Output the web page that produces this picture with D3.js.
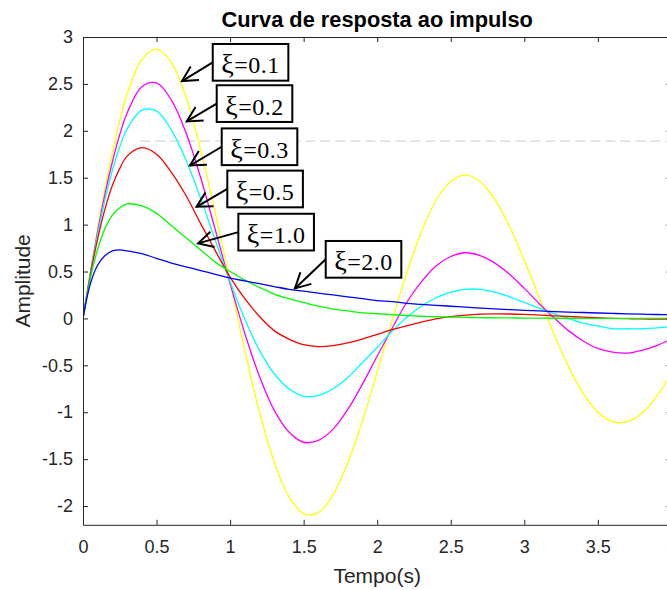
<!DOCTYPE html>
<html>
<head>
<meta charset="utf-8">
<script src="https://cdn.jsdelivr.net/npm/d3@7"></script>
<style>
  body { margin: 0; background: #fff; }
  svg { display: block; }
</style>
</head>
<body>
<div id="chart"></div>
<script>
// ---- dados ----
const time = [0, 0.05, 0.1, 0.15, 0.2, 0.25, 0.3, 0.4, 0.5, 0.6, 0.7, 0.8, 0.9, 1.0,
  1.1, 1.2, 1.3, 1.4, 1.5, 1.6, 1.7, 1.8, 1.9, 2.0, 2.1, 2.2, 2.3, 2.4, 2.5, 2.6,
  2.7, 2.8, 2.9, 3.0, 3.1, 3.2, 3.3, 3.4, 3.5, 3.6, 3.7, 3.8, 3.9, 4.0];

const xi01 = [0, 0.49, 0.96, 1.39, 1.77, 2.11, 2.39, 2.76, 2.87, 2.73, 2.36, 1.80, 1.12, 0.39,
  -0.34, -1.00, -1.53, -1.90, -2.08, -2.07, -1.88, -1.54, -1.09, -0.57, -0.03, 0.48, 0.92, 1.26,
  1.46, 1.53, 1.46, 1.27, 0.98, 0.62, 0.23, -0.16, -0.51, -0.80, -1.00, -1.10, -1.10, -1.01,
  -0.83, -0.59];
const xi02 = [0, 0.48, 0.93, 1.33, 1.67, 1.96, 2.19, 2.47, 2.51, 2.33, 1.98, 1.50, 0.94, 0.37,
  -0.16, -0.62, -0.98, -1.21, -1.32, -1.30, -1.18, -0.97, -0.70, -0.40, -0.11, 0.17, 0.39, 0.56,
  0.66, 0.70, 0.67, 0.59, 0.47, 0.32, 0.16, 0.01, -0.13, -0.24, -0.32, -0.36, -0.37, -0.34,
  -0.29, -0.22];
const xi03 = [0, 0.48, 0.90, 1.27, 1.58, 1.83, 2.02, 2.22, 2.21, 2.01, 1.69, 1.28, 0.83, 0.39,
  -0.01, -0.34, -0.59, -0.75, -0.83, -0.82, -0.75, -0.63, -0.47, -0.31, -0.14, 0.01, 0.13, 0.22,
  0.28, 0.31, 0.31, 0.28, 0.23, 0.17, 0.11, 0.05, 0.00, -0.05, -0.08, -0.11, -0.11, -0.11,
  -0.10, -0.09];
const xi05 = [0, 0.46, 0.85, 1.17, 1.42, 1.60, 1.73, 1.82, 1.75, 1.56, 1.31, 1.01, 0.72, 0.44,
  0.21, 0.02, -0.13, -0.22, -0.28, -0.30, -0.29, -0.26, -0.22, -0.17, -0.12, -0.08, -0.04, -0.005,
  0.019, 0.035, 0.045, 0.048, 0.047, 0.043, 0.036, 0.028, 0.021, 0.013, 0.007, 0.001, -0.003,
  -0.005, -0.007, -0.008];
const xi10 = [0, 0.43, 0.74, 0.96, 1.10, 1.18, 1.22, 1.20, 1.12, 0.99, 0.86, 0.73, 0.60, 0.50,
  0.41, 0.33, 0.26, 0.21, 0.17, 0.13, 0.10, 0.08, 0.06, 0.05, 0.04, 0.03, 0.023, 0.018,
  0.014, 0.011, 0.008, 0.006, 0.005, 0.004, 0.003, 0.002, 0.002, 0.001, 0.001, 0.001, 0.001,
  0, 0, 0];
const xi20 = [0, 0.37, 0.57, 0.67, 0.72, 0.73, 0.72, 0.69, 0.64, 0.59, 0.55, 0.51, 0.47, 0.43,
  0.40, 0.37, 0.34, 0.31, 0.29, 0.27, 0.25, 0.23, 0.21, 0.19, 0.18, 0.16, 0.15, 0.14,
  0.13, 0.12, 0.11, 0.101, 0.094, 0.086, 0.080, 0.073, 0.068, 0.063, 0.058, 0.053, 0.049,
  0.045, 0.042, 0.039];

const seriesValues = [xi01, xi02, xi03, xi05, xi10, xi20];
const seriesColors = ['#ffff00', '#ff00ff', '#00ffff', '#ff0000', '#00ff00', '#0000ff'];

const xTicks = [0, 0.5, 1, 1.5, 2, 2.5, 3, 3.5, 4];
const yTicks = [-2, -1.5, -1, -0.5, 0, 0.5, 1, 1.5, 2, 2.5, 3];

// linha tracejada cinza
const refLevel = 1.89;
const refStart = 0.39;

// anotações (ponta da seta e caixa, em unidades dos eixos)
const annoSymbol = 'ξ';
const annoValue = ['0.1', '0.2', '0.3', '0.5', '1.0', '2.0'];
const annoTipT = [0.673, 0.705, 0.727, 0.772, 0.782, 1.441];
const annoTipA = [2.53, 2.10, 1.63, 1.19, 0.80, 0.32];
const annoBoxT = [0.882, 0.909, 0.943, 0.981, 1.056, 1.650];
const annoBoxA = [2.73, 2.29, 1.83, 1.38, 0.92, 0.63];

// ---- layout ----
const W = 667, H = 590;
const sans = '"Liberation Sans", Arial, Helvetica, sans-serif';
const serif = '"Liberation Serif", "Times New Roman", serif';
const axisColor = '#262626';

const x = d3.scaleLinear().domain([0, 4]).range([83, 671.4]);
const y = d3.scaleLinear().domain([-2.2, 3]).range([524.8, 37]);

const svg = d3.select('#chart').append('svg')
  .attr('width', W)
  .attr('height', H);

svg.append('rect').attr('width', W).attr('height', H).attr('fill', '#fff');

svg.append('clipPath').attr('id', 'plot-clip')
  .append('rect')
  .attr('x', x.range()[0]).attr('y', y.range()[1])
  .attr('width', x.range()[1] - x.range()[0])
  .attr('height', y.range()[0] - y.range()[1]);

const plot = svg.append('g').attr('clip-path', 'url(#plot-clip)');

plot.append('line')
  .attr('x1', x(refStart)).attr('x2', x(4))
  .attr('y1', y(refLevel)).attr('y2', y(refLevel))
  .attr('stroke', '#d6d6d6')
  .attr('stroke-width', 1.2)
  .attr('stroke-dasharray', '10,5');

const line = d3.line()
  .x(d => x(d[0]))
  .y(d => y(d[1]))
  .curve(d3.curveCatmullRom);

seriesValues.forEach((vals, i) => {
  plot.append('path')
    .datum(time.map((t, k) => [t, vals[k]]))
    .attr('fill', 'none')
    .attr('stroke', seriesColors[i])
    .attr('stroke-width', 1.3)
    .attr('d', line);
});

// ---- eixos ----
function styleAxis(g) {
  g.attr('font-family', sans).attr('font-size', 18);
  g.select('.domain').attr('stroke', axisColor);
  g.selectAll('.tick line').attr('stroke', axisColor);
  g.selectAll('.tick text').attr('fill', axisColor);
}

svg.append('g')
  .attr('transform', `translate(0,${y(-2.2)})`)
  .call(d3.axisBottom(x).tickValues(xTicks).tickFormat(d => String(d))
    .tickSize(-5).tickSizeOuter(0).tickPadding(15))
  .call(styleAxis);

svg.append('g')
  .attr('transform', `translate(${x(0)},0)`)
  .call(d3.axisLeft(y).tickValues(yTicks).tickFormat(d => String(d))
    .tickSize(-5).tickSizeOuter(0).tickPadding(10))
  .call(styleAxis);

svg.append('g')
  .attr('transform', `translate(0,${y(3)})`)
  .call(d3.axisTop(x).tickValues(xTicks).tickFormat('').tickSize(-5).tickSizeOuter(0))
  .call(styleAxis);

svg.append('g')
  .attr('transform', `translate(${x(4)},0)`)
  .call(d3.axisRight(y).tickValues(yTicks).tickFormat('').tickSize(-5).tickSizeOuter(0))
  .call(styleAxis);

// ---- títulos ----
svg.append('text')
  .attr('x', (x(0) + x(4)) / 2).attr('y', 27)
  .attr('text-anchor', 'middle')
  .attr('font-family', sans).attr('font-weight', 'bold').attr('font-size', 21.8)
  .attr('fill', '#000')
  .text('Curva de resposta ao impulso');

svg.append('text')
  .attr('x', (x(0) + x(4)) / 2).attr('y', 583)
  .attr('text-anchor', 'middle')
  .attr('font-family', sans).attr('font-size', 21)
  .attr('fill', axisColor)
  .text('Tempo(s)');

svg.append('text')
  .attr('transform', `translate(30,${(y(3) + y(-2.2)) / 2}) rotate(-90)`)
  .attr('text-anchor', 'middle')
  .attr('font-family', sans).attr('font-size', 21)
  .attr('fill', axisColor)
  .text('Amplitude');

// ---- anotações ----
const boxW = 75.6, boxH = 36.7, headLen = 17, headAng = 28 * Math.PI / 180;
const anno = svg.append('g').attr('class', 'annotations');

annoValue.forEach((val, i) => {
  const tx = x(annoTipT[i]), ty = y(annoTipA[i]);
  const bx = x(annoBoxT[i]), by = y(annoBoxA[i]);
  const a = Math.atan2(by - ty, bx - tx);

  anno.append('line')
    .attr('x1', bx).attr('y1', by).attr('x2', tx).attr('y2', ty)
    .attr('stroke', '#000').attr('stroke-width', 2);

  const p = d3.path();
  p.moveTo(tx + headLen * Math.cos(a - headAng), ty + headLen * Math.sin(a - headAng));
  p.lineTo(tx, ty);
  p.lineTo(tx + headLen * Math.cos(a + headAng), ty + headLen * Math.sin(a + headAng));
  anno.append('path')
    .attr('d', p.toString())
    .attr('fill', 'none').attr('stroke', '#000').attr('stroke-width', 2)
    .attr('stroke-linejoin', 'miter');

  anno.append('rect')
    .attr('x', bx).attr('y', by - boxH / 2)
    .attr('width', boxW).attr('height', boxH)
    .attr('fill', '#fff').attr('stroke', '#000').attr('stroke-width', 2);

  const t = anno.append('text')
    .attr('x', bx + boxW / 2).attr('y', by + 11)
    .attr('text-anchor', 'middle')
    .attr('font-family', serif).attr('font-size', 24)
    .attr('letter-spacing', 0.5)
    .attr('fill', '#000');
  t.append('tspan').attr('font-size', 28).text(annoSymbol);
  t.append('tspan').text('=' + val);
});
</script>
</body>
</html>
